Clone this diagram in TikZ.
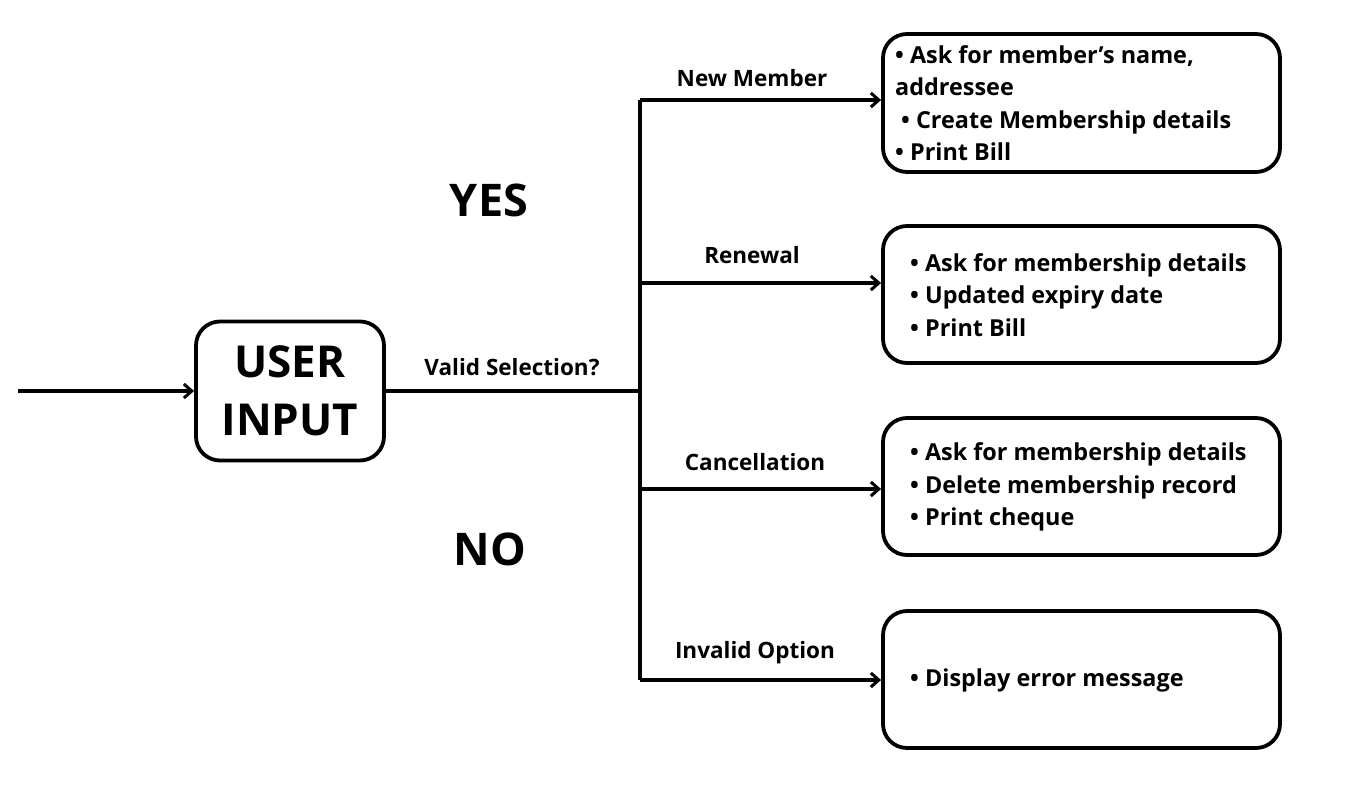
\documentclass[tikz,border=0pt]{standalone}
\usepackage{fontspec}
\setmainfont{Open Sans}
\usetikzlibrary{arrows.meta}
\begin{document}
\begin{tikzpicture}[x=1pt,y=-1pt,
  ln/.style={line width=3.4pt},
  arr/.style={ln,-{Straight Barb[length=8pt,width=14pt,line width=3pt]}},
  box/.style={draw,line width=3.8pt,rounded corners=24pt},
  lab/.style={font=\fontsize{22.5}{26}\selectfont\bfseries},
  txt/.style={font=\fontsize{23.4}{32.5}\selectfont\bfseries,align=left,anchor=west,inner sep=0pt}]
\useasboundingbox (0,0) rectangle (1345,790);
\coordinate (s) at (18,391);
\node[box,minimum width=188pt,minimum height=139pt,font=\fontsize{44}{58}\selectfont\bfseries,align=center] (ui) at (290,391) {USER\\INPUT};
\draw[arr] (s) -- (ui.west);
\coordinate (j) at (640,391);
\coordinate (t) at (640,100);
\coordinate (b) at (640,680);
\draw[ln] (ui.east) -- (j);
\draw[ln] (t) -- (b);
\node[box,minimum width=397pt,minimum height=138pt] (b1) at (1081.5,103) {};
\node[box,minimum width=397pt,minimum height=137pt] (b2) at (1081.5,294.5) {};
\node[box,minimum width=397pt,minimum height=137pt] (b3) at (1081.5,486.5) {};
\node[box,minimum width=397pt,minimum height=137pt] (b4) at (1081.5,679.5) {};
\coordinate (c2) at (640,283);
\coordinate (c3) at (640,489);
\draw[arr] (t) -- (b1.west |- t);
\draw[arr] (c2) -- (b2.west |- c2);
\draw[arr] (c3) -- (b3.west |- c3);
\draw[arr] (b) -- (b4.west |- b);
\node[lab] (l1) at (752,78) {New Member};
\node[lab] (l2) at (752,255) {Renewal};
\node[lab] (l3) at (755,462) {Cancellation};
\node[lab] (l4) at (755,653) {Invalid Option};
\node[lab] (vs) at (512,367) {Valid Selection?};
\node[font=\fontsize{45}{50}\selectfont\bfseries] (yes) at (489,200) {YES};
\node[font=\fontsize{45}{50}\selectfont\bfseries] (no) at (490,549) {NO};
\node[txt] (t1) at (895,103) {• Ask for member’s name,\\addressee\\\hspace{6pt}• Create Membership details\\• Print Bill};
\node[txt] (t2) at (910,295) {• Ask for membership details\\• Updated expiry date\\• Print Bill};
\node[txt] (t3) at (910,487) {• Ask for membership details\\• Delete membership record\\• Print cheque};
\node[txt] (t4) at (910,680) {• Display error message};
\end{tikzpicture}
\end{document}
